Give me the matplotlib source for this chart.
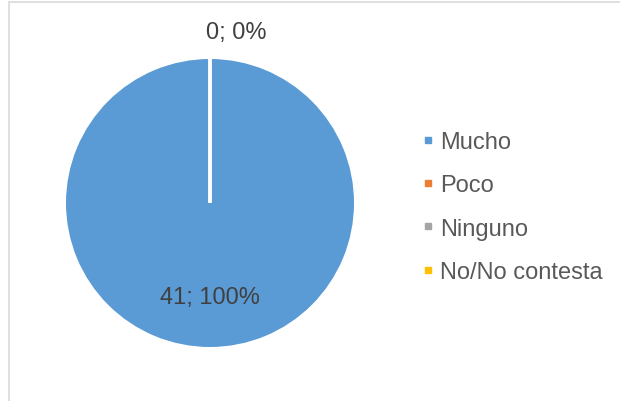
import matplotlib.pyplot as plt
from matplotlib.lines import Line2D
from matplotlib.patches import Rectangle

# Respuestas de la encuesta
categorias = ["Mucho", "Poco", "Ninguno", "No/No contesta"]
valores = [41, 0, 0, 0]
colores = ["#5B9BD5", "#ED7D31", "#A5A5A5", "#FFC000"]

plt.rcParams['font.family'] = ['Liberation Sans', 'DejaVu Sans']

W, H = 620, 402
fig = plt.figure(figsize=(W / 100, H / 100), dpi=100)
ax = fig.add_axes([0, 0, 1, 1])

cx, cy, r = 210, H - 204, 144
wedges, _ = ax.pie(valores, colors=colores, startangle=90, counterclock=False,
                   center=(cx, cy), radius=r,
                   wedgeprops=dict(edgecolor="white", linewidth=2.3))
wedges[0].set_edgecolor("none")

# la tarta reajusta los limites: fijarlos despues
ax.set_xlim(0, W)
ax.set_ylim(0, H)
ax.set_aspect('equal')
ax.axis('off')

# marco del area del grafico
ax.add_patch(Rectangle((9, -10), 700, H - 3 + 10, fill=False,
                       edgecolor="#D9D9D9", linewidth=1.2))

total = sum(valores)
txt = "#404040"
# etiqueta de la porcion principal (dentro)
ax.text(cx, cy - 0.65 * r, f"{valores[0]}; {round(100 * valores[0] / total)}%",
        ha='center', va='center', fontsize=17, color=txt)
# etiqueta de las porciones vacias (fuera, arriba)
ax.text(cx + 26, cy + r + 27, f"{valores[1]}; {round(100 * valores[1] / total)}%",
        ha='center', va='center', fontsize=17, color=txt)

handles = [Line2D([], [], marker='s', linestyle='', markersize=5,
                  markerfacecolor=c, markeredgecolor=c) for c in colores]
leg = ax.legend(handles, categorias, loc='center left',
                bbox_to_anchor=(409 / W, 1 - 208 / H), frameon=False,
                fontsize=17, labelspacing=0.9, handlelength=0.6,
                handletextpad=0.23, borderpad=0)
for t in leg.get_texts():
    t.set_color("#595959")

fig.savefig("out.png", dpi=100)
